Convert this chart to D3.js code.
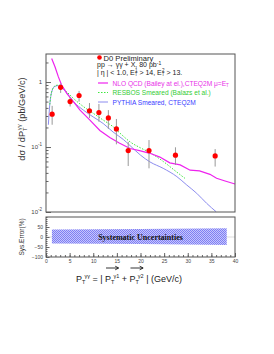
<!DOCTYPE html>
<html>
<head>
<meta charset="utf-8">
<script src="https://cdn.jsdelivr.net/npm/d3@7"></script>
<style>
  body { margin: 0; background: #fff; }
  text { font-family: "Liberation Sans", Arial, sans-serif; }
</style>
</head>
<body>
<div id="chart"></div>
<script>
// D0 diphoton pT spectrum: data points
var ptData = [1.3, 3.1, 5.1, 7.0, 9.2, 11.2, 13.2, 14.9, 17.4, 21.8, 27.4, 35.8];
var xsec   = [0.32, 0.83, 0.50, 0.62, 0.36, 0.34, 0.28, 0.19, 0.088, 0.088, 0.075, 0.073];
var errHi  = [0.43, 0.95, 0.59, 0.73, 0.475, 0.46, 0.37, 0.27, 0.12, 0.128, 0.099, 0.093];
var errLo  = [0.22, 0.68, 0.42, 0.50, 0.28, 0.245, 0.19, 0.11, 0.051, 0.047, 0.053, 0.050];

// NLO QCD curve
var nloPt = [1.2, 1.9, 2.6, 3.3, 4.4, 5.8, 7.2, 9.3, 11.4, 13.5, 15.5, 17.8, 20, 22, 24.1, 26.2, 28.4, 30.5, 32.5, 34.7, 36.1, 37.9, 40];
var nloY  = [2.3, 1.72, 1.21, 0.90, 0.67, 0.50, 0.37, 0.26, 0.18, 0.14, 0.115, 0.095, 0.087, 0.080, 0.070, 0.057, 0.053, 0.044, 0.043, 0.038, 0.033, 0.030, 0.027];

// RESBOS curve
var resPt = [0.8, 1.0, 1.3, 2.0, 2.7, 3.3, 4.3, 5.8, 7.9, 10.0, 12.1, 14.2, 16.0, 17.8, 20, 22, 24.8, 27.7, 29.4];
var resY  = [0.45, 0.6, 0.75, 0.88, 0.9, 0.85, 0.72, 0.56, 0.42, 0.33, 0.26, 0.205, 0.155, 0.12, 0.097, 0.082, 0.06, 0.041, 0.033];

// PYTHIA curve
var pyPt = [0.5, 0.8, 1.2, 1.8, 2.5, 3.3, 4.4, 5.8, 7.9, 10.0, 12.1, 14.2, 16.4, 17.8, 20, 22, 24.8, 27.7, 29.8, 31.9, 34.0, 36.0];
var pyY  = [0.22, 0.45, 0.7, 0.85, 0.88, 0.82, 0.68, 0.50, 0.37, 0.29, 0.23, 0.17, 0.13, 0.105, 0.075, 0.059, 0.047, 0.035, 0.026, 0.0194, 0.0136, 0.0101];

// systematic band (%)
var bandPt = [1.25, 20, 38.25];
var bandHi = [38, 40, 44];
var bandLo = [-32, -35, -40];

var xTicks = [0, 5, 10, 15, 20, 25, 30, 35, 40];
var sysTicks = [50, 0, -50, -100];

var W = 274, H = 354;
var left = 46, right = 235;
var top1 = 54, bot1 = 212;
var top2 = 217, bot2 = 257;

var svg = d3.select("#chart").append("svg")
	.attr("width", W)
	.attr("height", H);

var x = d3.scaleLinear().domain([0, 40]).range([left, right]);
var y = d3.scaleLog().domain([0.01, 2.7]).range([bot1, top1]);
var ys = d3.scaleLinear().domain([-100, 100]).range([bot2, top2]);

// pattern for the band
var defs = svg.append("defs");
var pat = defs.append("pattern")
	.attr("id", "checker")
	.attr("width", 2).attr("height", 2)
	.attr("patternUnits", "userSpaceOnUse");
pat.append("rect").attr("width", 2).attr("height", 2).attr("fill", "#c6c6fc");
pat.append("rect").attr("width", 1).attr("height", 1).attr("fill", "#7f7ff3");
pat.append("rect").attr("x", 1).attr("y", 1).attr("width", 1).attr("height", 1).attr("fill", "#7f7ff3");

// ---- top panel ----
var minor = [];
[0.01, 0.1, 1].forEach(function(d) {
	for (var k = 2; k <= 9; k++) { if (d * k <= 2.7) minor.push(d * k); }
});

svg.append("g")
	.attr("transform", "translate(" + left + ",0)")
	.call(d3.axisLeft(y).tickValues(minor).tickSizeInner(-2.5).tickSizeOuter(0).tickFormat(""))
	.call(function(g) { g.select(".domain").remove(); g.selectAll("line").attr("stroke", "#666"); });

var yax = svg.append("g")
	.attr("transform", "translate(" + left + ",0)")
	.call(d3.axisLeft(y).tickValues([0.01, 0.1, 1]).tickSizeInner(-5).tickSizeOuter(0).tickPadding(4).tickFormat(""));
yax.select(".domain").remove();
yax.selectAll("line").attr("stroke", "#666");
yax.selectAll(".tick text").each(function(d) {
	var t = d3.select(this).attr("font-size", 6).attr("fill", "#444").attr("font-family", "Liberation Sans, Arial, sans-serif");
	if (d === 1) { t.text("1"); }
	else {
		t.append("tspan").text("10");
		t.append("tspan").attr("dy", -3).attr("font-size", 4.5).text(d === 0.1 ? "-1" : "-2");
	}
});

// curves
var line = d3.line().x(function(d) { return x(d[0]); }).y(function(d) { return y(d[1]); });
var lineSmooth = d3.line().curve(d3.curveMonotoneX).x(function(d) { return x(d[0]); }).y(function(d) { return y(d[1]); });

svg.append("path")
	.datum(d3.zip(pyPt, pyY))
	.attr("fill", "none")
	.attr("stroke", "#8c8cef")
	.attr("stroke-width", 1)
	.attr("d", lineSmooth);

svg.append("path")
	.datum(d3.zip(resPt, resY))
	.attr("fill", "none")
	.attr("stroke", "#3ee83e")
	.attr("stroke-width", 1)
	.attr("stroke-dasharray", "1.5,1.5")
	.attr("d", lineSmooth);

svg.append("path")
	.datum(d3.zip(nloPt, nloY))
	.attr("fill", "none")
	.attr("stroke", "#ee22ee")
	.attr("stroke-width", 1.2)
	.attr("d", line);

// data points with error bars
var pts = d3.range(ptData.length);
svg.selectAll(".err").data(pts).enter().append("line")
	.attr("x1", function(i) { return x(ptData[i]); })
	.attr("x2", function(i) { return x(ptData[i]); })
	.attr("y1", function(i) { return y(errHi[i]); })
	.attr("y2", function(i) { return y(errLo[i]); })
	.attr("stroke", "#999")
	.attr("stroke-width", 1);
svg.selectAll(".pt").data(pts).enter().append("circle")
	.attr("cx", function(i) { return x(ptData[i]); })
	.attr("cy", function(i) { return y(xsec[i]); })
	.attr("r", 2.6)
	.attr("fill", "#ff0000");

// frame
svg.append("rect")
	.attr("x", left).attr("y", top1)
	.attr("width", right - left).attr("height", bot1 - top1)
	.attr("fill", "none").attr("stroke", "#555").attr("stroke-width", 1);

// legend / labels
svg.append("circle").attr("cx", 99.5).attr("cy", 57.5).attr("r", 2.3).attr("fill", "#ff0000");
svg.append("text").attr("x", 103.5).attr("y", 60.5).attr("font-size", 7.6).attr("fill", "#222").text("D0 Preliminary");

var l2 = svg.append("text").attr("x", 97).attr("y", 67).attr("font-size", 7).attr("fill", "#222");
l2.append("tspan").text("pp \u2192 \u03b3\u03b3 + X, 80 pb");
l2.append("tspan").attr("dy", -2.5).attr("font-size", 5).text("-1");

var l3 = svg.append("text").attr("x", 97).attr("y", 74.5).attr("font-size", 7).attr("fill", "#222");
l3.append("tspan").text("| \u03b7 | < 1.0,  E");
l3.append("tspan").attr("dy", 1.5).attr("font-size", 4.5).text("T");
l3.append("tspan").attr("dy", -4.5).attr("dx", -2.5).attr("font-size", 4.5).text("1");
l3.append("tspan").attr("dy", 3).attr("font-size", 7).text(" > 14,  E");
l3.append("tspan").attr("dy", 1.5).attr("font-size", 4.5).text("T");
l3.append("tspan").attr("dy", -4.5).attr("dx", -2.5).attr("font-size", 4.5).text("2");
l3.append("tspan").attr("dy", 3).attr("font-size", 7).text(" > 13.");

var legY = [83, 92.5, 102];
svg.append("line").attr("x1", 98).attr("x2", 108).attr("y1", legY[0]).attr("y2", legY[0]).attr("stroke", "#ee22ee").attr("stroke-width", 1.2);
svg.append("line").attr("x1", 98).attr("x2", 108).attr("y1", legY[1]).attr("y2", legY[1]).attr("stroke", "#3ee83e").attr("stroke-dasharray", "1.5,1.5");
svg.append("line").attr("x1", 98).attr("x2", 108).attr("y1", legY[2]).attr("y2", legY[2]).attr("stroke", "#8c8cef");

var t1 = svg.append("text").attr("x", 112.5).attr("y", legY[0] + 2.5).attr("font-size", 6.6).attr("fill", "#e830e8");
t1.append("tspan").text("NLO QCD (Bailey at el.),CTEQ2M \u03bc=E");
t1.append("tspan").attr("dy", 1.5).attr("font-size", 4.5).text("T");
svg.append("text").attr("x", 112.5).attr("y", legY[1] + 2.5).attr("font-size", 6.6).attr("fill", "#33cc33").text("RESBOS Smeared (Balazs et al.)");
svg.append("text").attr("x", 112.5).attr("y", legY[2] + 2.5).attr("font-size", 6.6).attr("fill", "#3a3aff").text("PYTHIA Smeared, CTEQ2M");

// y title
var yt = svg.append("text")
	.attr("transform", "translate(25,119) rotate(-90)")
	.attr("text-anchor", "middle")
	.attr("font-size", 9.2)
	.attr("fill", "#333");
yt.append("tspan").text("d\u03c3 / dP");
yt.append("tspan").attr("dy", 2).attr("font-size", 6).text("T");
yt.append("tspan").attr("dy", -6).attr("dx", -3).attr("font-size", 6).text("\u03b3\u03b3");
yt.append("tspan").attr("dy", 4).attr("font-size", 9.2).text("  (pb/GeV/c)");

// ---- bottom panel ----
var band = d3.area()
	.x(function(d) { return x(d[0]); })
	.y0(function(d) { return ys(d[2]); })
	.y1(function(d) { return ys(d[1]); });
svg.append("line")
	.attr("x1", x(0)).attr("x2", x(40)).attr("y1", ys(0)).attr("y2", ys(0))
	.attr("stroke", "#ddd").attr("stroke-width", 1);
svg.append("path")
	.datum(d3.zip(bandPt, bandHi, bandLo))
	.attr("fill", "url(#checker)")
	.attr("d", band);

svg.append("text")
	.attr("x", 140.5).attr("y", ys(0) + 2.8)
	.attr("text-anchor", "middle")
	.attr("font-weight", "bold")
	.attr("font-size", 8)
	.attr("fill", "#111")
	.style("font-family", "Liberation Serif, serif")
	.text("Systematic Uncertainties");

// x axis
svg.append("g")
	.attr("transform", "translate(0," + bot2 + ")")
	.call(d3.axisBottom(x).tickValues(d3.range(0, 41)).tickSizeInner(-2).tickSizeOuter(0).tickFormat(""))
	.call(function(g) { g.select(".domain").remove(); g.selectAll("line").attr("stroke", "#666"); });
var xax = svg.append("g")
	.attr("transform", "translate(0," + bot2 + ")")
	.call(d3.axisBottom(x).tickValues(xTicks).tickSizeInner(-4).tickSizeOuter(0).tickPadding(2));
xax.select(".domain").remove();
xax.selectAll("line").attr("stroke", "#666");
xax.selectAll("text").attr("font-size", 5).attr("fill", "#444").attr("font-family", "Liberation Sans, Arial, sans-serif");

// sys y axis
svg.append("g")
	.attr("transform", "translate(" + left + ",0)")
	.call(d3.axisLeft(ys).tickValues(d3.range(-100, 101, 10)).tickSizeInner(-1.5).tickSizeOuter(0).tickFormat(""))
	.call(function(g) { g.select(".domain").remove(); g.selectAll("line").attr("stroke", "#666"); });
var sax = svg.append("g")
	.attr("transform", "translate(" + left + ",0)")
	.call(d3.axisLeft(ys).tickValues(sysTicks).tickSizeInner(-3.5).tickSizeOuter(0).tickPadding(3));
sax.select(".domain").remove();
sax.selectAll("line").attr("stroke", "#666");
sax.selectAll("text").attr("font-size", 5).attr("fill", "#444").attr("font-family", "Liberation Sans, Arial, sans-serif");

svg.append("rect")
	.attr("x", left).attr("y", top2)
	.attr("width", right - left).attr("height", bot2 - top2)
	.attr("fill", "none").attr("stroke", "#555").attr("stroke-width", 1);

svg.append("text")
	.attr("transform", "translate(24,237) rotate(-90)")
	.attr("text-anchor", "middle")
	.attr("font-size", 6.5)
	.attr("fill", "#333")
	.text("Sys.Error(%)");

// x title
var xt = svg.append("text")
	.attr("x", 76).attr("y", 282)
	.attr("font-size", 9)
	.attr("fill", "#222");
xt.append("tspan").text("P");
xt.append("tspan").attr("dy", 2).attr("font-size", 5.5).text("T");
xt.append("tspan").attr("dy", -6).attr("dx", -1).attr("font-size", 5.5).text("\u03b3\u03b3");
xt.append("tspan").attr("dy", 4).attr("font-size", 9).text(" = |  ");
var p1 = xt.append("tspan").text("P");
xt.append("tspan").attr("dy", 2).attr("font-size", 5.5).text("T");
var g1 = xt.append("tspan").attr("dy", -6).attr("dx", -1).attr("font-size", 5.5).text("\u03b31");
xt.append("tspan").attr("dy", 4).attr("font-size", 9).text("   +  ");
var p2 = xt.append("tspan").text("P");
xt.append("tspan").attr("dy", 2).attr("font-size", 5.5).text("T");
var g2 = xt.append("tspan").attr("dy", -6).attr("dx", -1).attr("font-size", 5.5).text("\u03b32");
xt.append("tspan").attr("dy", 4).attr("font-size", 9).text("  |  (GeV/c)");

// vector arrows over the photon momenta
[[p1, g1], [p2, g2]].forEach(function(pair) {
	var a = pair[0].node().getBBox(), b = pair[1].node().getBBox();
	var x0 = a.x + 1, x1 = b.x + b.width - 1, yy = 268;
	svg.append("line").attr("x1", x0).attr("x2", x1).attr("y1", yy).attr("y2", yy).attr("stroke", "#000").attr("stroke-width", 0.8);
	svg.append("path")
		.attr("d", "M" + (x1 - 3) + "," + (yy - 1.8) + "L" + (x1 + 0.5) + "," + yy + "L" + (x1 - 3) + "," + (yy + 1.8))
		.attr("fill", "none").attr("stroke", "#000").attr("stroke-width", 0.8);
});
</script>
</body>
</html>
